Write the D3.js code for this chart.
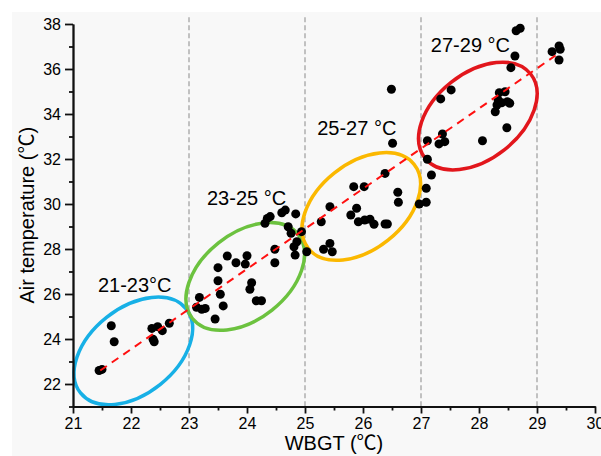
<!DOCTYPE html>
<html>
<head>
<meta charset="utf-8">
<script src="https://cdn.jsdelivr.net/npm/d3@7"></script>
<style>
    body { margin: 0; background: #fff; }
    svg text { font-family: "Liberation Sans", Arial, "Noto Sans CJK SC", sans-serif; fill: #000; }
    .cjk { font-family: "Noto Sans CJK SC", sans-serif; }
</style>
</head>
<body>
<div id="chart"></div>
<script>
// WBGT (x) and air temperature (y) for each measurement
const wbgt = [
    21.45, 21.5, 21.66, 21.71, 22.36, 22.46, 22.54, 22.38, 22.40, 22.66,
    23.18, 23.13, 23.22, 23.28, 23.45, 23.59, 23.54, 23.50, 23.50, 23.66,
    23.81, 23.97, 24.0, 24.08, 24.05, 24.16, 24.25, 24.48, 24.48, 24.31,
    24.35, 24.40, 24.60, 24.66, 24.84, 24.71, 24.76, 24.86, 24.81, 24.83,
    24.94, 25.03, 25.28, 25.43, 25.32, 25.43, 25.47, 25.84, 26.02, 25.89,
    25.79, 25.92, 26.03, 26.12, 26.19, 26.38, 26.42, 26.38, 26.60, 26.61,
    26.51, 26.49,
    26.97, 27.09, 27.09, 27.18, 27.11, 27.11, 27.31, 27.37, 27.41, 27.34,
    27.52, 28.06, 28.48, 28.28, 28.31, 28.33, 28.35, 28.45, 28.49, 28.53,
    28.39, 28.55, 28.62, 28.64, 28.71, 29.26, 29.38, 29.40, 29.38
];
const airTemp = [
    22.6, 22.65, 24.59, 23.88, 24.47, 24.55, 24.37, 23.99, 23.88, 24.70,
    25.85, 25.41, 25.32, 25.36, 24.89, 25.47, 25.99, 26.59, 27.17, 27.69,
    27.39, 27.33, 27.70, 26.50, 26.21, 25.70, 25.70, 27.99, 27.39, 29.14,
    29.36, 29.44, 29.61, 29.73, 29.56, 28.99, 28.70, 28.32, 28.10, 27.73,
    28.77, 27.88, 29.21, 29.88, 27.99, 28.25, 27.88, 30.77, 30.77, 29.81,
    29.51, 29.21, 29.29, 29.32, 29.10, 29.11, 29.11, 31.36, 30.52, 30.08,
    32.70, 35.10,
    30.0, 30.08, 30.70, 31.29, 31.99, 32.81, 32.67, 33.11, 32.77, 34.67,
    35.07, 32.81, 33.39, 34.10, 34.40, 34.62, 34.95, 34.99, 34.55, 34.48,
    34.50, 36.06, 36.58, 37.70, 37.81, 36.77, 37.02, 36.88, 36.40
];

// fitted line ends
const fitX = [21.47, 29.32];
const fitY = [22.6, 36.6];

// WBGT class bands and their labels
const bandLines = [23, 25, 27, 29];
const groupNames = ["21-23°C", "23-25 °C", "25-27 °C", "27-29 °C"];
const groupCenterX = [22.04, 23.97, 25.97, 27.98];
const groupCenterY = [23.47, 26.78, 29.89, 33.91];
const groupLabelX = [21.43, 23.31, 25.21, 27.17];
const groupLabelY = [26.09, 29.96, 33.07, 36.76];
const groupColors = ["#17b0e6", "#6cc23f", "#fbb800", "#e2161c"];

const xTicks = [21, 22, 23, 24, 25, 26, 27, 28, 29, 30];
const yTicks = [22, 24, 26, 28, 30, 32, 34, 36, 38];

const width = 601, height = 456;

const svg = d3.select("#chart")
    .append("svg")
    .attr("width", width)
    .attr("height", height);

// light grey panel behind the plot
svg.append("rect")
    .attr("x", 12)
    .attr("y", 12)
    .attr("width", width - 12)
    .attr("height", height - 12)
    .attr("fill", "#f8f8f8");

const x = d3.scaleLinear().domain([21, 30]).range([73, 595]);
const y = d3.scaleLinear().domain([21, 38]).range([406.5, 24]);

// dashed band separators
svg.selectAll(".band")
    .data(bandLines)
    .join("line")
    .attr("class", "band")
    .attr("x1", d => x(d))
    .attr("x2", d => x(d))
    .attr("y1", y(38.3))
    .attr("y2", y(21))
    .attr("stroke", "#8a8a8a")
    .attr("stroke-width", 1)
    .attr("stroke-dasharray", "5,3");

// ellipses round each group
svg.selectAll(".group")
    .data(groupNames)
    .join("ellipse")
    .attr("class", "group")
    .attr("rx", 67.5)
    .attr("ry", 43)
    .attr("transform", (d, i) => `translate(${x(groupCenterX[i])},${y(groupCenterY[i])}) rotate(-38.5)`)
    .attr("fill", "none")
    .attr("stroke", (d, i) => groupColors[i])
    .attr("stroke-width", 3.5);

svg.selectAll(".groupLabel")
    .data(groupNames)
    .join("text")
    .attr("class", "groupLabel")
    .attr("x", (d, i) => x(groupLabelX[i]))
    .attr("y", (d, i) => y(groupLabelY[i]))
    .attr("font-size", 20)
    .text(d => d);

// points
svg.selectAll(".dot")
    .data(wbgt)
    .join("circle")
    .attr("class", "dot")
    .attr("cx", d => x(d))
    .attr("cy", (d, i) => y(airTemp[i]))
    .attr("r", 4.5)
    .attr("fill", "#000");

// regression line
svg.append("line")
    .attr("x1", x(fitX[0]))
    .attr("y1", y(fitY[0]))
    .attr("x2", x(fitX[1]))
    .attr("y2", y(fitY[1]))
    .attr("stroke", "#ff1010")
    .attr("stroke-width", 2)
    .attr("stroke-dasharray", "8,6");

// axes: major ticks with labels, minor ticks without
svg.append("g")
    .attr("transform", `translate(0,${y(21)})`)
    .call(d3.axisBottom(x).tickValues(xTicks).tickSize(7).tickSizeOuter(0).tickPadding(4).tickFormat(d3.format("d")));
svg.append("g")
    .attr("transform", `translate(0,${y(21)})`)
    .call(d3.axisBottom(x).tickValues(d3.range(21.5, 30, 1)).tickSize(4).tickSizeOuter(0).tickFormat(""));

svg.append("g")
    .attr("transform", `translate(${x(21)},0)`)
    .call(d3.axisLeft(y).tickValues(yTicks).tickSize(8).tickSizeOuter(0).tickPadding(4).tickFormat(d3.format("d")));
svg.append("g")
    .attr("transform", `translate(${x(21)},0)`)
    .call(d3.axisLeft(y).tickValues(d3.range(21, 38, 2)).tickSize(4).tickSizeOuter(0).tickFormat(""));

svg.selectAll(".domain, .tick line")
    .attr("stroke", "#111")
    .attr("stroke-width", 1.8);
svg.selectAll(".tick text")
    .attr("font-size", 16)
    .attr("font-family", "'Liberation Sans', Arial, sans-serif")
    .attr("fill", "#000");

// axis titles, the ℃ sign taken from the CJK font
const xTitle = svg.append("text")
    .attr("x", (x(21) + x(30)) / 2)
    .attr("y", 450)
    .attr("text-anchor", "middle")
    .attr("font-size", 20);
xTitle.append("tspan").text("WBGT (");
xTitle.append("tspan").attr("class", "cjk").text("℃");
xTitle.append("tspan").text(")");

const yTitle = svg.append("text")
    .attr("transform", `translate(34,${(y(21) + y(38)) / 2}) rotate(-90)`)
    .attr("text-anchor", "middle")
    .attr("font-size", 20);
yTitle.append("tspan").text("Air temperature (");
yTitle.append("tspan").attr("class", "cjk").text("℃");
yTitle.append("tspan").text(")");
</script>
</body>
</html>
